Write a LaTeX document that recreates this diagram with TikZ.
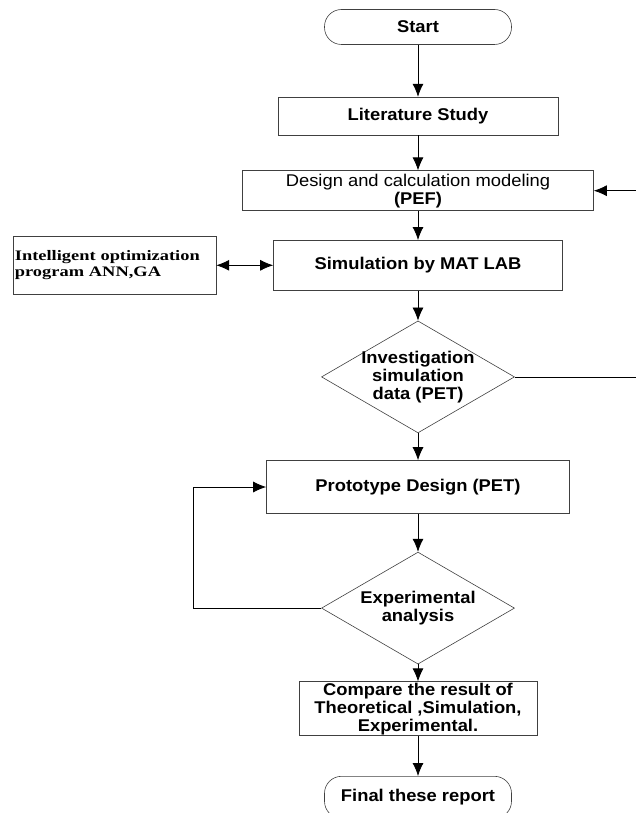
\documentclass[tikz,border=0pt]{standalone}
\usepackage{fontspec}
\setmainfont{Liberation Sans}[FakeStretch=1.08]
\newfontfamily\serifwide{Liberation Serif}[FakeStretch=1.27]
\usetikzlibrary{positioning,shapes,arrows.meta,calc}

\begin{document}
\begin{tikzpicture}[
    x=1pt, y=1pt,
    font=\fontsize{17}{18}\selectfont\bfseries,
    >={Latex[length=13pt,width=11pt]},
    box/.style={rectangle, draw=black!75, semithick, align=center, inner sep=1pt},
    term/.style={box, rounded corners=17pt, minimum width=187pt, minimum height=35pt},
    decision/.style={diamond, aspect=1.7, draw=black!75, semithick, align=center, inner sep=-10pt, minimum width=193pt, minimum height=112pt},
    arrow/.style={->, thick}
]
\useasboundingbox (0,0) rectangle (636,-813);

\node[term] (start) at (418,-27) {Start};
\node[box, minimum width=280pt, minimum height=38pt, below=52pt of start] (lit) {Literature Study};
\node[box, minimum width=351pt, minimum height=40pt, below=35pt of lit] (design) {{\mdseries Design and calculation modeling}\\(PEF)};
\node[box, minimum width=289pt, minimum height=50pt, below=29pt of design] (sim) {Simulation by MAT LAB};
\node[box, text width=199pt, minimum height=58pt, align=left, left=57pt of sim,
      font=\fontsize{14.5}{16}\selectfont\serifwide\bfseries, inner sep=2pt] (intel) {Intelligent optimization\\program ANN,GA};
\node[decision, below=30pt of sim] (inv) {Investigation\\simulation\\data (PET)};
\node[box, minimum width=303pt, minimum height=53pt, below=27pt of inv] (proto) {Prototype Design (PET)};
\node[decision, below=38pt of proto] (exp) {Experimental\\analysis};
\node[box, minimum width=238pt, minimum height=54pt, below=17pt of exp] (comp) {Compare the result of\\Theoretical ,Simulation,\\Experimental.};
\node[term, minimum height=42pt, below=40pt of comp] (final) {Final these report};

\coordinate (edge) at (636,0);
\coordinate[left=128pt of exp.west] (back);

\draw[arrow] (start) -- (lit);
\draw[arrow] (lit) -- (design);
\draw[arrow] (design) -- (sim);
\draw[arrow, <->] (intel) -- (sim);
\draw[arrow] (sim) -- (inv);
\draw[arrow] (inv) -- (proto);
\draw[arrow] (proto) -- (exp);
\draw[arrow] (exp) -- (comp);
\draw[arrow] (comp) -- (final);

% loop back from the experiment
\draw[arrow] (exp.west) -- (back) |- (proto.west);

% return path on the right, cut by the page edge
\draw[thick] (inv.east) -- (inv.east -| edge);
\draw[arrow] (design.east -| edge) -- (design.east);
\end{tikzpicture}
\end{document}
